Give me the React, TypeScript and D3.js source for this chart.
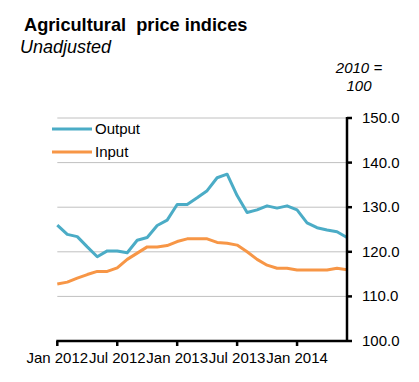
import React from "react";
import * as d3 from "d3";

const months = [
  "Jan 2012","Feb 2012","Mar 2012","Apr 2012","May 2012","Jun 2012","Jul 2012","Aug 2012","Sep 2012","Oct 2012","Nov 2012","Dec 2012",
  "Jan 2013","Feb 2013","Mar 2013","Apr 2013","May 2013","Jun 2013","Jul 2013","Aug 2013","Sep 2013","Oct 2013","Nov 2013","Dec 2013",
  "Jan 2014","Feb 2014","Mar 2014","Apr 2014","May 2014","Jun 2014",
];
const outputValues = [
  126.0,123.9,123.4,121.1,118.9,120.2,120.2,119.8,122.6,123.2,125.9,127.1,
  130.6,130.6,132.1,133.7,136.6,137.4,132.6,128.8,129.4,130.3,129.8,130.3,
  129.4,126.5,125.4,124.9,124.5,123.2,
];
const inputValues = [
  112.8,113.2,114.1,114.9,115.6,115.6,116.4,118.3,119.7,121.1,121.1,121.4,
  122.3,122.9,122.9,122.9,122.1,121.9,121.5,120.0,118.3,117.0,116.3,116.3,
  115.9,115.9,115.9,115.9,116.3,116.0,
];
const xTickLabels = ["Jan 2012", "Jul 2012", "Jan 2013", "Jul 2013", "Jan 2014"];
const yTicks = [100, 110, 120, 130, 140, 150];

const FONT = "Arial, 'Liberation Sans', sans-serif";
const BLUE = "#4bacc6";
const ORANGE = "#f79646";

export default function App() {
  const x = d3.scaleLinear().domain([0, months.length - 1]).range([57.3, 347]);
  const y = d3.scaleLinear().domain([100, 150]).range([341, 118]);
  const line = d3
    .line<number>()
    .x((_, i) => x(i))
    .y((d) => y(d));

  const xTickIdx = xTickLabels.map((l) => months.indexOf(l));

  return (
    <svg
      width={419}
      height={382}
      style={{ position: "absolute", left: 0, top: 0, background: "#fff" }}
      fontFamily={FONT}
    >
      <text x={24} y={31} fontSize={18.2} fontWeight="bold" fill="#000">
        Agricultural{"\u00a0\u00a0"}price indices
      </text>
      <text x={20} y={53} fontSize={18} fontStyle="italic" fill="#000">
        Unadjusted
      </text>
      <text x={359} y={73} fontSize={15} fontStyle="italic" textAnchor="middle" fill="#000">
        2010 =
      </text>
      <text x={359} y={91} fontSize={15} fontStyle="italic" textAnchor="middle" fill="#000">
        100
      </text>

      {yTicks.filter((t) => t > 100).map((t) => (
        <line key={t} x1={x(0)} x2={x(months.length - 1)} y1={y(t)} y2={y(t)} stroke="#c0c0c0" strokeWidth={1} />
      ))}

      <path d={line(inputValues) || ""} fill="none" stroke={ORANGE} strokeWidth={3} strokeLinejoin="round" />
      <path d={line(outputValues) || ""} fill="none" stroke={BLUE} strokeWidth={3} strokeLinejoin="round" />

      {/* right axis */}
      <line x1={x(months.length - 1)} x2={x(months.length - 1)} y1={y(150) - 1} y2={y(100) + 1} stroke="#000" strokeWidth={2.5} />
      {yTicks.map((t) => (
        <g key={t}>
          <line x1={x(months.length - 1)} x2={x(months.length - 1) + 5} y1={y(t)} y2={y(t)} stroke="#000" strokeWidth={2.5} />
          <text x={362} y={y(t) + 5} fontSize={15} fill="#000">
            {t.toFixed(1)}
          </text>
        </g>
      ))}

      {/* bottom axis */}
      <line x1={x(0) - 1} x2={x(months.length - 1)} y1={y(100)} y2={y(100)} stroke="#000" strokeWidth={2.5} />
      {xTickIdx.map((i, k) => (
        <g key={k}>
          <line x1={x(i)} x2={x(i)} y1={y(100)} y2={y(100) + 5} stroke="#000" strokeWidth={2.5} />
          <text x={x(i)} y={363} fontSize={15} textAnchor="middle" fill="#000">
            {xTickLabels[k]}
          </text>
        </g>
      ))}

      {/* legend */}
      <line x1={52} x2={92} y1={129} y2={129} stroke={BLUE} strokeWidth={3} />
      <text x={95} y={134} fontSize={15} fill="#000">Output</text>
      <line x1={52} x2={92} y1={152} y2={152} stroke={ORANGE} strokeWidth={3} />
      <text x={95} y={157} fontSize={15} fill="#000">Input</text>
    </svg>
  );
}
